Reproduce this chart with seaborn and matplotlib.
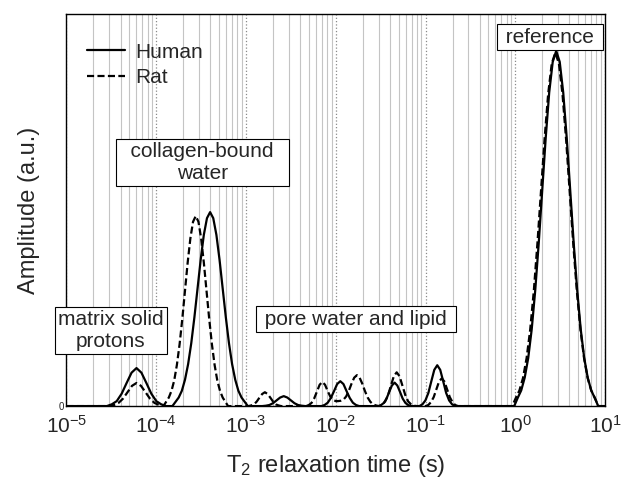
import numpy as np
import pandas as pd
import matplotlib
matplotlib.use('Agg')
import matplotlib.pyplot as plt
import matplotlib.ticker as mticker
import seaborn as sns

## T2 distributions: log10(T2 / s) and amplitude (a.u.)
human_log_t2 = [-5.0, -4.60,
                -4.55, -4.495, -4.44, -4.385, -4.33, -4.275, -4.22, -4.165, -4.11, -4.055, -4.0, -3.945, -3.89,
                -3.82, -3.785, -3.75, -3.715, -3.68, -3.645, -3.61, -3.575, -3.54, -3.505, -3.47, -3.435, -3.40,
                -3.365, -3.33, -3.295, -3.26, -3.225, -3.19, -3.155, -3.12, -3.085, -3.05, -3.015, -2.98,
                -2.82, -2.78, -2.74, -2.70, -2.66, -2.62, -2.58, -2.54, -2.50, -2.46, -2.42, -2.38, -2.34,
                -2.16, -2.125, -2.09, -2.055, -2.02, -1.985, -1.95, -1.915, -1.88, -1.845, -1.81, -1.775, -1.74,
                -1.525, -1.495, -1.465, -1.435, -1.405, -1.375, -1.345, -1.315, -1.285, -1.255, -1.225, -1.195, -1.165,
                -1.068, -1.035, -1.002, -0.969, -0.936, -0.903, -0.87, -0.837, -0.804, -0.771, -0.738, -0.705, -0.672,
                -0.013, 0.026, 0.065, 0.104, 0.143, 0.182, 0.221, 0.26, 0.299, 0.338, 0.377, 0.416, 0.455,
                0.494, 0.533, 0.572, 0.611, 0.65, 0.689, 0.728, 0.767, 0.806, 0.845, 0.884, 0.923,
                1.0]
human_amp = [0, 0,
             0, 0.005, 0.014, 0.035, 0.065, 0.094, 0.107, 0.094, 0.065, 0.035, 0.014, 0.005, 0,
             0, 0.012, 0.024, 0.043, 0.074, 0.118, 0.177, 0.250, 0.331, 0.412, 0.482, 0.529, 0.546,
             0.529, 0.482, 0.412, 0.331, 0.250, 0.177, 0.118, 0.074, 0.043, 0.024, 0.012, 0,
             0, 0.001, 0.003, 0.008, 0.016, 0.024, 0.028, 0.024, 0.016, 0.008, 0.003, 0.001, 0,
             0, 0.003, 0.0095, 0.023, 0.042, 0.062, 0.070, 0.062, 0.042, 0.023, 0.0095, 0.003, 0,
             0, 0.003, 0.009, 0.021, 0.040, 0.058, 0.066, 0.058, 0.040, 0.021, 0.009, 0.003, 0,
             0, 0.005, 0.016, 0.037, 0.070, 0.102, 0.115, 0.102, 0.070, 0.037, 0.016, 0.005, 0,
             0, 0.023, 0.044, 0.080, 0.135, 0.216, 0.325, 0.458, 0.607, 0.755, 0.883, 0.969, 1.0,
             0.969, 0.883, 0.755, 0.607, 0.458, 0.325, 0.216, 0.135, 0.080, 0.044, 0.023, 0,
             0]

rat_log_t2 = [-5.0,
              -4.52, -4.47, -4.42, -4.37, -4.32, -4.27, -4.22, -4.17, -4.12, -4.07, -4.02, -3.97,
              -3.92, -3.89, -3.86, -3.83, -3.80, -3.77, -3.74, -3.71, -3.68, -3.65, -3.62, -3.59, -3.56,
              -3.53, -3.50, -3.47, -3.44, -3.41, -3.38, -3.35, -3.32, -3.29, -3.26, -3.23, -3.20,
              -2.97, -2.94, -2.91, -2.88, -2.85, -2.82, -2.79, -2.76, -2.73, -2.70, -2.67, -2.64, -2.61,
              -2.33, -2.30, -2.27, -2.24, -2.21, -2.18, -2.15, -2.12, -2.09, -2.06, -2.03, -2.00,
              -1.975, -1.945, -1.915, -1.885, -1.855, -1.825, -1.795, -1.765,
              -1.735, -1.705, -1.675, -1.645, -1.615, -1.585, -1.555, -1.525,
              -1.514, -1.482, -1.45, -1.418, -1.386, -1.354, -1.322, -1.29, -1.258, -1.226, -1.194, -1.162, -1.13, -1.10,
              -1.0, -0.97, -0.94, -0.91, -0.88, -0.85, -0.82, -0.79, -0.76, -0.73, -0.70, -0.67, -0.64,
              -0.035, 0.005, 0.045, 0.085, 0.125, 0.165, 0.205, 0.245, 0.285, 0.325, 0.365, 0.405, 0.445,
              0.485, 0.525, 0.565, 0.605, 0.645, 0.685, 0.725, 0.765, 0.805, 0.845, 0.885, 0.925,
              1.0]
rat_amp = [0,
           0, 0.003, 0.009, 0.021, 0.039, 0.057, 0.065, 0.057, 0.039, 0.021, 0.009, 0.003,
           0, 0.012, 0.024, 0.043, 0.072, 0.116, 0.174, 0.245, 0.325, 0.404, 0.472, 0.519, 0.535,
           0.519, 0.472, 0.404, 0.325, 0.245, 0.174, 0.116, 0.072, 0.043, 0.024, 0.012, 0,
           0, 0.002, 0.005, 0.013, 0.024, 0.034, 0.039, 0.034, 0.024, 0.013, 0.005, 0.002, 0,
           0, 0.003, 0.009, 0.022, 0.041, 0.060, 0.068, 0.060, 0.042, 0.026, 0.017, 0.014,
           0.014, 0.015, 0.018, 0.027, 0.043, 0.063, 0.080, 0.087,
           0.080, 0.063, 0.042, 0.024, 0.012, 0.005, 0.002, 0,
           0, 0.004, 0.013, 0.031, 0.058, 0.084, 0.095, 0.084, 0.058, 0.031, 0.013, 0.005, 0.001, 0,
           0, 0.003, 0.011, 0.025, 0.047, 0.069, 0.078, 0.069, 0.047, 0.025, 0.011, 0.003, 0,
           0, 0.023, 0.044, 0.079, 0.135, 0.215, 0.323, 0.456, 0.603, 0.751, 0.878, 0.964, 0.995,
           0.964, 0.878, 0.751, 0.603, 0.456, 0.323, 0.215, 0.135, 0.079, 0.044, 0.023, 0,
           0]

samples = ['Human', 'Rat']
x_range = [1e-5, 1e1]
x_ticks = [1e-5, 1e-4, 1e-3, 1e-2, 1e-1, 1e0, 1e1]
x_tick_labels = [r'$10^{-5}$', r'$10^{-4}$', r'$10^{-3}$', r'$10^{-2}$', r'$10^{-1}$', r'$10^{0}$', r'$10^{1}$']

df = pd.concat([
    pd.DataFrame({'T2': 10.0 ** np.array(human_log_t2), 'Amplitude': human_amp, 'Sample': samples[0]}),
    pd.DataFrame({'T2': 10.0 ** np.array(rat_log_t2), 'Amplitude': rat_amp, 'Sample': samples[1]}),
], ignore_index=True)

sns.set_theme(style='white')
plt.rcParams['font.family'] = ['Liberation Sans', 'DejaVu Sans']
plt.rcParams['mathtext.default'] = 'regular'

fig, ax = plt.subplots(figsize=(6.33, 4.8), dpi=100)
fig.subplots_adjust(left=0.105, right=0.956, bottom=0.154, top=0.971)

sns.lineplot(data=df, x='T2', y='Amplitude', style='Sample',
             dashes={'Human': '', 'Rat': (3.2, 1.5)},
             color='black', linewidth=1.6, sort=False, estimator=None, ax=ax)

ax.set_xscale('log')
ax.set_xlim(x_range)
ax.set_ylim(0, 1.104)
ax.xaxis.set_major_locator(mticker.FixedLocator(x_ticks))
ax.xaxis.set_major_formatter(mticker.FixedFormatter(x_tick_labels))
ax.xaxis.set_minor_locator(mticker.LogLocator(base=10, subs=np.arange(2, 10), numticks=100))
ax.xaxis.set_minor_formatter(mticker.NullFormatter())
ax.set_yticks([0])

##grid like the original (dotted decades, solid light minors)
ax.set_axisbelow(True)
ax.grid(which='major', axis='x', color='#8a8a8a', linestyle=':', linewidth=0.9)
ax.grid(which='minor', axis='x', color='#c4c4c4', linestyle='-', linewidth=0.8)
ax.grid(False, axis='y')

ax.tick_params(axis='x', which='major', direction='in', length=4, labelsize=15, pad=6, color='black')
ax.tick_params(axis='x', which='minor', direction='in', length=2, color='black')
ax.tick_params(axis='y', direction='in', length=3, labelsize=7, pad=2)
for sp in ax.spines.values():
    sp.set_color('black')
    sp.set_linewidth(1.0)

ax.set_xlabel(r'T$_2$ relaxation time (s)', fontsize=17)
ax.set_ylabel('Amplitude (a.u.)', fontsize=17)
ax.yaxis.set_label_coords(-0.05, 0.5)
ax.xaxis.set_label_coords(0.5, -0.12)

handles, labels = ax.get_legend_handles_labels()
leg = ax.legend(handles, labels, loc='upper left', bbox_to_anchor=(0.038, 0.927),
                frameon=False, fontsize=15, handlelength=1.85, handletextpad=0.45,
                labelspacing=0.3, borderpad=0, borderaxespad=0)
for ln in leg.get_lines():
    ln.set_color('black')
    ln.set_linewidth(1.6)

box = dict(boxstyle='square,pad=0.15', fc='white', ec='black', lw=0.8)
ax.text(3.27e-4, 0.686, '  collagen-bound  \nwater', ha='center', va='center', fontsize=15, bbox=box)
ax.text(3.12e-5, 0.212, 'matrix solid\nprotons', ha='center', va='center', fontsize=15, bbox=box)
ax.text(1.68e-2, 0.245, ' pore water and lipid ', ha='center', va='center', fontsize=15, bbox=box)
ax.text(2.42, 1.039, ' reference ', ha='center', va='center', fontsize=15, bbox=box)

fig.savefig('out.png', dpi=100)
